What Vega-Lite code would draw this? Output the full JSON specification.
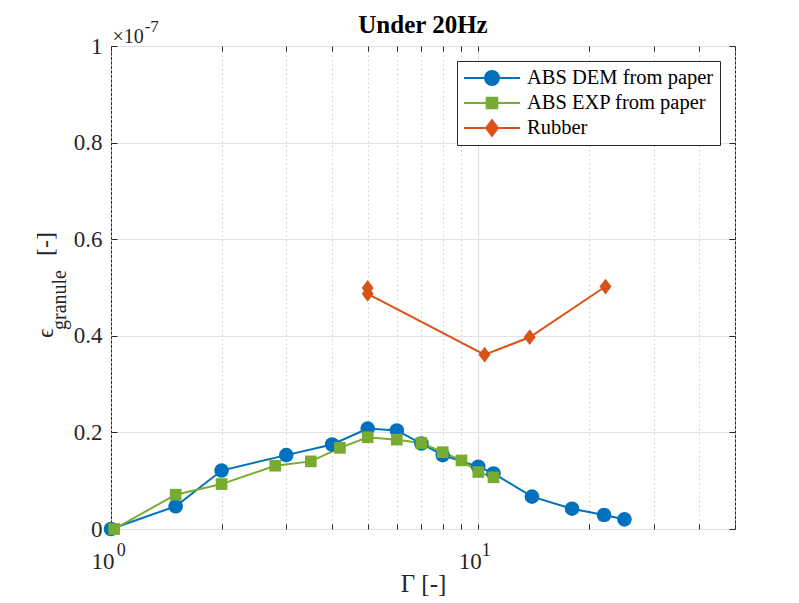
{
  "$schema": "https://vega.github.io/schema/vega-lite/v6.json",
  "width": 624,
  "height": 483,
  "autosize": {"type": "none"},
  "padding": {"left": 111, "top": 46, "right": 64, "bottom": 74},
  "background": "white",
  "config": {
    "font": "Liberation Serif",
    "view": {"stroke": "#262626", "strokeWidth": 1}
  },
  "title": {"text": "Under 20Hz", "fontSize": 25, "font": "Liberation Serif", "fontWeight": "bold", "color": "black", "anchor": "middle", "baseline": "alphabetic", "offset": -40},
  "data": {"values": [
    {"s": "ABS DEM from paper", "i": 1, "g": 1.0, "e": 0.0},
    {"s": "ABS DEM from paper", "i": 2, "g": 1.5, "e": 0.047},
    {"s": "ABS DEM from paper", "i": 3, "g": 2.0, "e": 0.121},
    {"s": "ABS DEM from paper", "i": 4, "g": 3.0, "e": 0.153},
    {"s": "ABS DEM from paper", "i": 5, "g": 4.0, "e": 0.175},
    {"s": "ABS DEM from paper", "i": 6, "g": 5.0, "e": 0.208},
    {"s": "ABS DEM from paper", "i": 7, "g": 6.0, "e": 0.204},
    {"s": "ABS DEM from paper", "i": 8, "g": 7.0, "e": 0.177},
    {"s": "ABS DEM from paper", "i": 9, "g": 8.0, "e": 0.153},
    {"s": "ABS DEM from paper", "i": 10, "g": 10.0, "e": 0.129},
    {"s": "ABS DEM from paper", "i": 11, "g": 11.0, "e": 0.115},
    {"s": "ABS DEM from paper", "i": 12, "g": 14.0, "e": 0.067},
    {"s": "ABS DEM from paper", "i": 13, "g": 18.0, "e": 0.042},
    {"s": "ABS DEM from paper", "i": 14, "g": 22.0, "e": 0.029},
    {"s": "ABS DEM from paper", "i": 15, "g": 25.0, "e": 0.020},
    {"s": "ABS EXP from paper", "i": 1, "g": 1.02, "e": 0.0},
    {"s": "ABS EXP from paper", "i": 2, "g": 1.5, "e": 0.071},
    {"s": "ABS EXP from paper", "i": 3, "g": 2.0, "e": 0.093},
    {"s": "ABS EXP from paper", "i": 4, "g": 2.8, "e": 0.131},
    {"s": "ABS EXP from paper", "i": 5, "g": 3.5, "e": 0.140},
    {"s": "ABS EXP from paper", "i": 6, "g": 4.2, "e": 0.168},
    {"s": "ABS EXP from paper", "i": 7, "g": 5.0, "e": 0.190},
    {"s": "ABS EXP from paper", "i": 8, "g": 6.0, "e": 0.185},
    {"s": "ABS EXP from paper", "i": 9, "g": 7.0, "e": 0.178},
    {"s": "ABS EXP from paper", "i": 10, "g": 8.0, "e": 0.159},
    {"s": "ABS EXP from paper", "i": 11, "g": 9.0, "e": 0.142},
    {"s": "ABS EXP from paper", "i": 12, "g": 10.0, "e": 0.118},
    {"s": "ABS EXP from paper", "i": 13, "g": 11.0, "e": 0.107},
    {"s": "Rubber", "i": 1, "g": 5.0, "e": 0.499},
    {"s": "Rubber", "i": 2, "g": 5.0, "e": 0.487},
    {"s": "Rubber", "i": 3, "g": 10.4, "e": 0.361},
    {"s": "Rubber", "i": 4, "g": 13.8, "e": 0.397},
    {"s": "Rubber", "i": 5, "g": 22.2, "e": 0.502}
  ]},
  "layer": [
    {
      "mark": {"type": "line", "strokeWidth": 2},
      "encoding": {
        "x": {"field": "g", "type": "quantitative",
          "scale": {"type": "log", "domain": [1, 50], "nice": false},
          "axis": {
            "values": [1, 2, 3, 4, 5, 6, 7, 8, 9, 10, 20, 30, 40, 50],
            "labelExpr": "datum.value === 1 || datum.value === 10 ? '10' : ''",
            "labelFlush": false, "labelOverlap": false, "labelBaseline": "alphabetic", "labelAlign": "right", "labelOffset": 3,
            "labelPadding": 44, "labelFontSize": 23, "labelFont": "Liberation Serif", "labelColor": "#262626",
            "tickSize": -5, "tickColor": "#262626", "domain": false,
            "grid": true,
            "gridDash": {"condition": {"test": "datum.value === 10", "value": []}, "value": [1.5, 3]},
            "gridColor": {"condition": {"test": "datum.value === 10", "value": "#dedede"}, "value": "#cccccc"},
            "title": "Γ [-]", "titleFontSize": 25, "titleFont": "Liberation Serif", "titleFontWeight": "normal", "titleColor": "#262626",
            "titleBaseline": "alphabetic", "titleAlign": "center", "titleX": 312, "titleY": 62
          }
        },
        "y": {"field": "e", "type": "quantitative",
          "scale": {"domain": [0, 1], "nice": false, "zero": false},
          "axis": {
            "values": [0, 0.2, 0.4, 0.6, 0.8, 1],
            "labelExpr": "datum.value === 0 ? '0' : datum.value === 1 ? '1' : format(datum.value, '.1f')",
            "labelFlush": false, "labelPadding": 15, "labelFontSize": 23, "labelFont": "Liberation Serif", "labelColor": "#262626",
            "tickSize": -6, "tickColor": "#262626", "domain": false,
            "grid": true, "gridColor": "#e3e3e3",
            "title": "×10", "titleAngle": 0, "titleAlign": "left", "titleBaseline": "alphabetic",
            "titleX": 1, "titleY": -4, "titleFontSize": 20, "titleFont": "Liberation Serif", "titleFontWeight": "normal", "titleColor": "#262626"
          }
        },
        "color": {"field": "s", "type": "nominal",
          "scale": {"domain": ["ABS DEM from paper", "ABS EXP from paper", "Rubber"], "range": ["#0072BD", "#77AC30", "#D95319"]},
          "legend": {
            "orient": "top-right", "offset": 15, "title": null,
            "fillColor": "white", "strokeColor": "#262626", "padding": 6,
            "labelFont": "Liberation Serif", "labelFontSize": 20.5, "labelColor": "black", "labelLimit": 400, "labelOffset": 6,
            "symbolSize": 3136, "symbolStrokeWidth": 2, "rowPadding": 3, "clipHeight": 22,
            "encode": {"symbols": {"update": {
              "shape": {"signal": "datum.value === 'ABS DEM from paper' ? 'M-1,0H1M0.25,0A0.25,0.25,0,1,1,-0.25,0A0.25,0.25,0,1,1,0.25,0Z' : datum.value === 'ABS EXP from paper' ? 'M-1,0H1M-0.19,-0.19H0.19V0.19H-0.19Z' : 'M-1,0H1M0,-0.28L0.21,0L0,0.28L-0.21,0Z'"},
              "stroke": {"scale": "color", "field": "value"},
              "fill": {"scale": "color", "field": "value"},
              "strokeWidth": {"value": 2},
              "opacity": {"value": 1}
            }}}
          }
        },
        "order": {"field": "i", "type": "quantitative"}
      }
    },
    {
      "transform": [{"filter": "datum.s === 'ABS DEM from paper'"}],
      "mark": {"type": "point", "filled": true, "opacity": 1, "size": 213, "shape": "circle"},
      "encoding": {
        "x": {"field": "g", "type": "quantitative", "scale": {"type": "log", "domain": [1, 50], "nice": false}, "axis": null},
        "y": {"field": "e", "type": "quantitative", "scale": {"domain": [0, 1], "nice": false, "zero": false}, "axis": null},
        "color": {"field": "s", "type": "nominal",
          "scale": {"domain": ["ABS DEM from paper", "ABS EXP from paper", "Rubber"], "range": ["#0072BD", "#77AC30", "#D95319"]},
          "legend": {
            "orient": "top-right", "offset": 15, "title": null,
            "fillColor": "white", "strokeColor": "#262626", "padding": 6,
            "labelFont": "Liberation Serif", "labelFontSize": 20.5, "labelColor": "black", "labelLimit": 400, "labelOffset": 6,
            "symbolSize": 3136, "symbolStrokeWidth": 2, "rowPadding": 3, "clipHeight": 22,
            "encode": {"symbols": {"update": {
              "shape": {"signal": "datum.value === 'ABS DEM from paper' ? 'M-1,0H1M0.25,0A0.25,0.25,0,1,1,-0.25,0A0.25,0.25,0,1,1,0.25,0Z' : datum.value === 'ABS EXP from paper' ? 'M-1,0H1M-0.19,-0.19H0.19V0.19H-0.19Z' : 'M-1,0H1M0,-0.28L0.21,0L0,0.28L-0.21,0Z'"},
              "stroke": {"scale": "color", "field": "value"},
              "fill": {"scale": "color", "field": "value"},
              "strokeWidth": {"value": 2},
              "opacity": {"value": 1}
            }}}
          }
        }
      }
    },
    {
      "transform": [{"filter": "datum.s === 'ABS EXP from paper'"}],
      "mark": {"type": "point", "filled": true, "opacity": 1, "size": 213, "shape": "M-0.8,-0.8H0.8V0.8H-0.8Z"},
      "encoding": {
        "x": {"field": "g", "type": "quantitative", "scale": {"type": "log", "domain": [1, 50], "nice": false}, "axis": null},
        "y": {"field": "e", "type": "quantitative", "scale": {"domain": [0, 1], "nice": false, "zero": false}, "axis": null},
        "color": {"field": "s", "type": "nominal",
          "scale": {"domain": ["ABS DEM from paper", "ABS EXP from paper", "Rubber"], "range": ["#0072BD", "#77AC30", "#D95319"]},
          "legend": {
            "orient": "top-right", "offset": 15, "title": null,
            "fillColor": "white", "strokeColor": "#262626", "padding": 6,
            "labelFont": "Liberation Serif", "labelFontSize": 20.5, "labelColor": "black", "labelLimit": 400, "labelOffset": 6,
            "symbolSize": 3136, "symbolStrokeWidth": 2, "rowPadding": 3, "clipHeight": 22,
            "encode": {"symbols": {"update": {
              "shape": {"signal": "datum.value === 'ABS DEM from paper' ? 'M-1,0H1M0.25,0A0.25,0.25,0,1,1,-0.25,0A0.25,0.25,0,1,1,0.25,0Z' : datum.value === 'ABS EXP from paper' ? 'M-1,0H1M-0.19,-0.19H0.19V0.19H-0.19Z' : 'M-1,0H1M0,-0.28L0.21,0L0,0.28L-0.21,0Z'"},
              "stroke": {"scale": "color", "field": "value"},
              "fill": {"scale": "color", "field": "value"},
              "strokeWidth": {"value": 2},
              "opacity": {"value": 1}
            }}}
          }
        }
      }
    },
    {
      "transform": [{"filter": "datum.s === 'Rubber'"}],
      "mark": {"type": "point", "filled": true, "opacity": 1, "size": 225, "shape": "M0,-1.05L0.8,0L0,1.05L-0.8,0Z"},
      "encoding": {
        "x": {"field": "g", "type": "quantitative", "scale": {"type": "log", "domain": [1, 50], "nice": false}, "axis": null},
        "y": {"field": "e", "type": "quantitative", "scale": {"domain": [0, 1], "nice": false, "zero": false}, "axis": null},
        "color": {"field": "s", "type": "nominal",
          "scale": {"domain": ["ABS DEM from paper", "ABS EXP from paper", "Rubber"], "range": ["#0072BD", "#77AC30", "#D95319"]},
          "legend": {
            "orient": "top-right", "offset": 15, "title": null,
            "fillColor": "white", "strokeColor": "#262626", "padding": 6,
            "labelFont": "Liberation Serif", "labelFontSize": 20.5, "labelColor": "black", "labelLimit": 400, "labelOffset": 6,
            "symbolSize": 3136, "symbolStrokeWidth": 2, "rowPadding": 3, "clipHeight": 22,
            "encode": {"symbols": {"update": {
              "shape": {"signal": "datum.value === 'ABS DEM from paper' ? 'M-1,0H1M0.25,0A0.25,0.25,0,1,1,-0.25,0A0.25,0.25,0,1,1,0.25,0Z' : datum.value === 'ABS EXP from paper' ? 'M-1,0H1M-0.19,-0.19H0.19V0.19H-0.19Z' : 'M-1,0H1M0,-0.28L0.21,0L0,0.28L-0.21,0Z'"},
              "stroke": {"scale": "color", "field": "value"},
              "fill": {"scale": "color", "field": "value"},
              "strokeWidth": {"value": 2},
              "opacity": {"value": 1}
            }}}
          }
        }
      }
    },
    {
      "mark": {"type": "point", "opacity": 0},
      "encoding": {
        "x": {"field": "g", "type": "quantitative", "scale": {"type": "log", "domain": [1, 50], "nice": false},
          "axis": {"orient": "top", "values": [1, 2, 3, 4, 5, 6, 7, 8, 9, 10, 20, 30, 40, 50], "labels": false, "tickSize": -5, "tickColor": "#262626", "grid": false, "domain": false, "title": null}},
        "y": {"field": "e", "type": "quantitative", "scale": {"domain": [0, 1], "nice": false, "zero": false},
          "axis": {"orient": "right", "values": [0, 0.2, 0.4, 0.6, 0.8, 1], "labels": false, "tickSize": -6, "tickColor": "#262626", "grid": false, "domain": false, "title": null}}
      }
    },
    {
      "data": {"values": [{}]},
      "mark": {"type": "text", "text": "-7", "align": "left", "baseline": "alphabetic", "fontSize": 17, "font": "Liberation Serif", "color": "#262626"},
      "encoding": {
        "x": {"datum": 1.235, "type": "quantitative", "scale": {"type": "log", "domain": [1, 50], "nice": false}, "axis": null},
        "y": {"datum": 1.029, "type": "quantitative", "scale": {"domain": [0, 1], "nice": false, "zero": false}, "axis": null}
      }
    },
    {
      "data": {"values": [{}]},
      "mark": {"type": "text", "text": "0", "align": "left", "baseline": "alphabetic", "fontSize": 18, "font": "Liberation Serif", "color": "#262626"},
      "encoding": {
        "x": {"datum": 1.036, "type": "quantitative", "scale": {"type": "log", "domain": [1, 50], "nice": false}, "axis": null},
        "y": {"datum": -0.056, "type": "quantitative", "scale": {"domain": [0, 1], "nice": false, "zero": false}, "axis": null}
      }
    },
    {
      "data": {"values": [{}]},
      "mark": {"type": "text", "text": "1", "align": "left", "baseline": "alphabetic", "fontSize": 18, "font": "Liberation Serif", "color": "#262626"},
      "encoding": {
        "x": {"datum": 10.22, "type": "quantitative", "scale": {"type": "log", "domain": [1, 50], "nice": false}, "axis": null},
        "y": {"datum": -0.056, "type": "quantitative", "scale": {"domain": [0, 1], "nice": false, "zero": false}, "axis": null}
      }
    },
    {
      "data": {"values": [{}]},
      "mark": {"type": "text", "text": "ϵ", "angle": 270, "align": "left", "baseline": "alphabetic", "fontSize": 24, "font": "Liberation Serif", "color": "#262626"},
      "encoding": {
        "x": {"datum": 0.695, "type": "quantitative", "scale": {"type": "log", "domain": [1, 50], "nice": false}, "axis": null},
        "y": {"datum": 0.3954, "type": "quantitative", "scale": {"domain": [0, 1], "nice": false, "zero": false}, "axis": null}
      }
    },
    {
      "data": {"values": [{}]},
      "mark": {"type": "text", "text": "granule", "angle": 270, "align": "left", "baseline": "alphabetic", "fontSize": 20, "font": "Liberation Serif", "color": "#262626"},
      "encoding": {
        "x": {"datum": 0.754, "type": "quantitative", "scale": {"type": "log", "domain": [1, 50], "nice": false}, "axis": null},
        "y": {"datum": 0.412, "type": "quantitative", "scale": {"domain": [0, 1], "nice": false, "zero": false}, "axis": null}
      }
    },
    {
      "data": {"values": [{}]},
      "mark": {"type": "text", "text": "[-]", "angle": 270, "align": "left", "baseline": "alphabetic", "fontSize": 24, "font": "Liberation Serif", "color": "#262626"},
      "encoding": {
        "x": {"datum": 0.695, "type": "quantitative", "scale": {"type": "log", "domain": [1, 50], "nice": false}, "axis": null},
        "y": {"datum": 0.565, "type": "quantitative", "scale": {"domain": [0, 1], "nice": false, "zero": false}, "axis": null}
      }
    }
  ],
  "resolve": {"axis": {"x": "independent", "y": "independent"}}
}
